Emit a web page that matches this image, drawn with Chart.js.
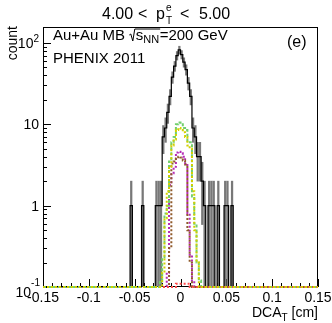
<!DOCTYPE html>
<html><head><meta charset="utf-8">
<script src="https://cdn.jsdelivr.net/npm/chart.js@4.4.1/dist/chart.umd.min.js"></script>
<style>html,body{margin:0;padding:0;background:#fff;}#wrap{width:332px;height:323px;position:relative;}</style>
</head><body><div id="wrap"><canvas id="c" width="332" height="323"></canvas></div>
<script>
// ---- axis ranges / binning ----
const xMin = -0.15, xMax = 0.15, binWidth = 0.0025;
const yMin = 0.1, yMax = 157;

// ---- bin centres of the populated window (all other bins are empty) ----
const binCenters = [-0.05375,-0.05125,-0.04875,-0.04625,-0.04375,-0.04125,-0.03875,-0.03625,-0.03375,-0.03125,-0.02875,-0.02625,-0.02375,-0.02125,-0.01875,-0.01625,-0.01375,-0.01125,-0.00875,-0.00625,-0.00375,-0.00125,
  0.00125,0.00375,0.00625,0.00875,0.01125,0.01375,0.01625,0.01875,0.02125,0.02375,0.02625,0.02875,0.03125,0.03375,0.03625,0.03875,0.04125,0.04375,0.04625,0.04875,0.05125,0.05375,0.05625,0.05875];

// data (black histogram with sqrt(N) errors)
const dataCounts = [1,0,0,0,0,1,0,0,0,0,0,1,1,1,7,9,14,22,38,52,70,82,
  72,58,47,32,22,9,7,4,4,2,1,0,1,1,1,0,1,0,0,1,1,0,1,0];
// templates
const greenTemplate = [0,0,0,0,0,0,0,0,0,0,0,0,0,0.12,0.23,0.8,1.0,3.5,6,7,10,10.5,
  10,9,8.5,6,6,1.3,0.6,0.2,0.12,0,0,0,0,0,0,0,0,0,0,0,0,0,0,0];
const yellowTemplate = [0,0,0,0,0,0,0,0,0,0,0,0,0,0,0.15,0.7,1.5,3,5.5,6.5,8.5,9,
  8.5,8,7,5.5,5,1.5,0.5,0.2,0,0,0,0,0,0,0,0,0,0,0,0,0,0,0,0];
const magentaTemplate = [0,0,0,0,0,0,0,0,0,0,0,0,0,0,0,0,0.15,1.8,2.5,3,4.5,4.6,
  4.4,4,3.3,0.8,0.25,0.12,0,0,0,0,0,0,0,0,0,0,0,0,0,0,0,0,0,0];
const brownTemplate = [0,0,0,0,0,0,0,0,0,0,0,0,0,0,0,0,0,0.3,3.3,3.5,3.8,4,
  3.9,3.6,3.2,0.5,0.2,0,0,0,0,0,0,0,0,0,0,0,0,0,0,0,0,0,0,0];
const redTemplate = [0,0,0,0,0,0,0,0,0,0,0,0,0,0,0,0,0,0,0,0,0.11,0.11,
  0.11,0.11,0.11,0.11,0,0,0,0,0,0,0,0,0,0,0,0,0,0,0,0,0,0,0,0];

// ---- tick labels ----
const xTickValues = [-0.15,-0.1,-0.05,0,0.05,0.1,0.15];
const xTickLabels = ['-0.15','-0.1','-0.05','0','0.05','0.1','0.15'];
const yTickValues = [0.1,1,10,100];
const yTickLabels = [['10','-1'],['1',''],['10',''],['10','2']];

// ---- helpers ----
const nBins = Math.round((xMax - xMin) / binWidth);
function fullBins(vals) {
  const arr = new Array(nBins).fill(0);
  binCenters.forEach((c, i) => { arr[Math.floor((c - xMin) / binWidth)] = vals[i]; });
  return arr;
}
function stepPoints(vals) {
  const full = fullBins(vals), pts = [];
  for (let k = 0; k < nBins; k++) pts.push({x: xMin + k * binWidth, y: Math.max(full[k], yMin)});
  pts.push({x: xMax, y: Math.max(full[nBins - 1], yMin)});
  return pts;
}
const errorBars = dataCounts.map((n, i) => n > 0 ? {x: binCenters[i], y: [Math.max(n - Math.sqrt(n), yMin), n + Math.sqrt(n)]} : null).filter(Boolean);

function histDS(vals, color, width, dash, order) {
  return {type: 'line', data: stepPoints(vals), borderColor: color, borderWidth: width, borderDash: dash,
    stepped: 'before', pointRadius: 0, fill: false, tension: 0, order: order,
    clip: {left: 0, top: 0, right: 0, bottom: 2}};
}

const FONT = '"Liberation Sans", Arial, Helvetica, sans-serif';
function font(sz) { return sz + 'px ' + FONT; }

const rootStyle = {
  id: 'rootStyle',
  beforeDatasetsDraw(chart) {
    const {ctx, chartArea: a, scales: {x, y}} = chart;
    ctx.save();
    ctx.strokeStyle = '#000'; ctx.lineWidth = 1;
    ctx.strokeRect(a.left + 0.5, a.top + 0.5, a.right - a.left - 1, a.bottom - a.top - 1);
    ctx.beginPath();
    for (let k = -15; k <= 15; k++) {
      const px = Math.round(x.getPixelForValue(k / 100)) + 0.5;
      const len = (k % 5 === 0) ? 8 : 4;
      ctx.moveTo(px, a.bottom); ctx.lineTo(px, a.bottom - len);
    }
    for (let e = -1; e <= 2; e++) {
      for (let m = 1; m <= 9; m++) {
        const v = m * Math.pow(10, e);
        if (v > yMax) continue;
        const py = Math.round(y.getPixelForValue(v)) + 0.5;
        const len = m === 1 ? 8 : 4;
        ctx.moveTo(a.left, py); ctx.lineTo(a.left + len, py);
      }
    }
    ctx.stroke();
    ctx.restore();
  },
  afterDraw(chart) {
    const {ctx, chartArea: a, scales: {x, y}} = chart;
    ctx.save();
    ctx.fillStyle = '#000';
    ctx.textBaseline = 'alphabetic';
    // x tick labels
    ctx.font = font(14); ctx.textAlign = 'center';
    xTickValues.forEach((v, i) => ctx.fillText(xTickLabels[i], x.getPixelForValue(v), 302));
    // y tick labels
    yTickValues.forEach((v, i) => {
      const py = y.getPixelForValue(v);
      const [base, sup] = yTickLabels[i];
      if (sup) {
        ctx.font = font(10); const sw = ctx.measureText(sup).width;
        const right = i === 0 ? 40 : 39;
        ctx.textAlign = 'left'; ctx.fillText(sup, right - sw, py - 1);
        ctx.font = font(14); ctx.textAlign = 'right';
        ctx.fillText(base, right - sw, py + 5 + (i === 0 ? 5 : 0));
      } else {
        ctx.font = font(14); ctx.textAlign = 'right';
        ctx.fillText(base, 39, py + 5);
      }
    });
    // axis titles
    ctx.font = font(14); ctx.textAlign = 'right';
    ctx.fillText('[cm]', a.right, 317);
    const cmW = ctx.measureText(' [cm]').width;
    ctx.font = font(10); const tW = ctx.measureText('T').width;
    ctx.fillText('T', a.right - cmW, 321);
    ctx.font = font(14);
    ctx.fillText('DCA', a.right - cmW - tW, 317);
    ctx.save();
    ctx.translate(17, 26); ctx.rotate(-Math.PI / 2);
    ctx.textAlign = 'right'; ctx.fillText('count', 0, 0);
    ctx.restore();
    // title
    ctx.textAlign = 'left';
    ctx.font = font(16);
    ctx.fillText('4.00', 102, 19);
    ctx.fillText('<', 138, 19);
    ctx.fillText('p', 156, 19);
    ctx.fillText('<', 180, 19);
    ctx.fillText('5.00', 199, 19);
    ctx.font = font(10);
    ctx.fillText('e', 166, 11);
    ctx.fillText('T', 166, 24);
    // labels in pad
    ctx.font = font(15);
    ctx.fillText('Au+Au MB', 53, 40);
    let cx = 53 + ctx.measureText('Au+Au MB ').width;
    const sW = ctx.measureText('s').width;
    ctx.font = font(11); const nnW = ctx.measureText('NN').width;
    const sStart = cx + 6.5;
    ctx.beginPath(); ctx.lineWidth = 1; ctx.strokeStyle = '#000';
    ctx.moveTo(cx, 35); ctx.lineTo(cx + 1.5, 34); ctx.lineTo(cx + 3.5, 41); ctx.lineTo(cx + 5.5, 29);
    ctx.lineTo(sStart + sW + nnW + 1, 29);
    ctx.stroke();
    ctx.font = font(15); ctx.fillText('s', sStart, 40);
    ctx.font = font(11); ctx.fillText('NN', sStart + sW, 43);
    ctx.font = font(15); ctx.fillText('=200 GeV', sStart + sW + nnW + 0.5, 40);
    ctx.fillText('PHENIX 2011', 53, 63);
    ctx.font = font(16);
    ctx.fillText('(e)', 287, 47);
    ctx.restore();
  }
};

new Chart(document.getElementById('c'), {
  type: 'line',
  data: {datasets: [
    {type: 'bar', data: errorBars, backgroundColor: 'rgba(105,105,105,0.9)', borderWidth: 0, barThickness: 1.6, order: 7, grouped: false},
    histDS(dataCounts, '#000000', 1.2, [], 6),
    histDS(magentaTemplate, '#b52ab5', 2, [2, 2], 5),
    histDS(brownTemplate, '#8f5a2a', 2, [2, 2], 4),
    histDS(greenTemplate, '#72cf6e', 2, [3, 2], 3),
    histDS(redTemplate, '#ff4a4a', 2, [2, 2], 2),
    histDS(yellowTemplate, '#d2d000', 2, [2, 2], 1)
  ]},
  options: {
    responsive: false, animation: false, devicePixelRatio: 1,
    layout: {padding: {left: 43, right: 14, top: 27, bottom: 36}},
    plugins: {legend: {display: false}, tooltip: {enabled: false}},
    scales: {
      x: {type: 'linear', min: xMin, max: xMax, display: false, offset: false},
      y: {type: 'logarithmic', min: yMin, max: yMax, display: false}
    }
  },
  plugins: [rootStyle]
});
</script></body></html>
